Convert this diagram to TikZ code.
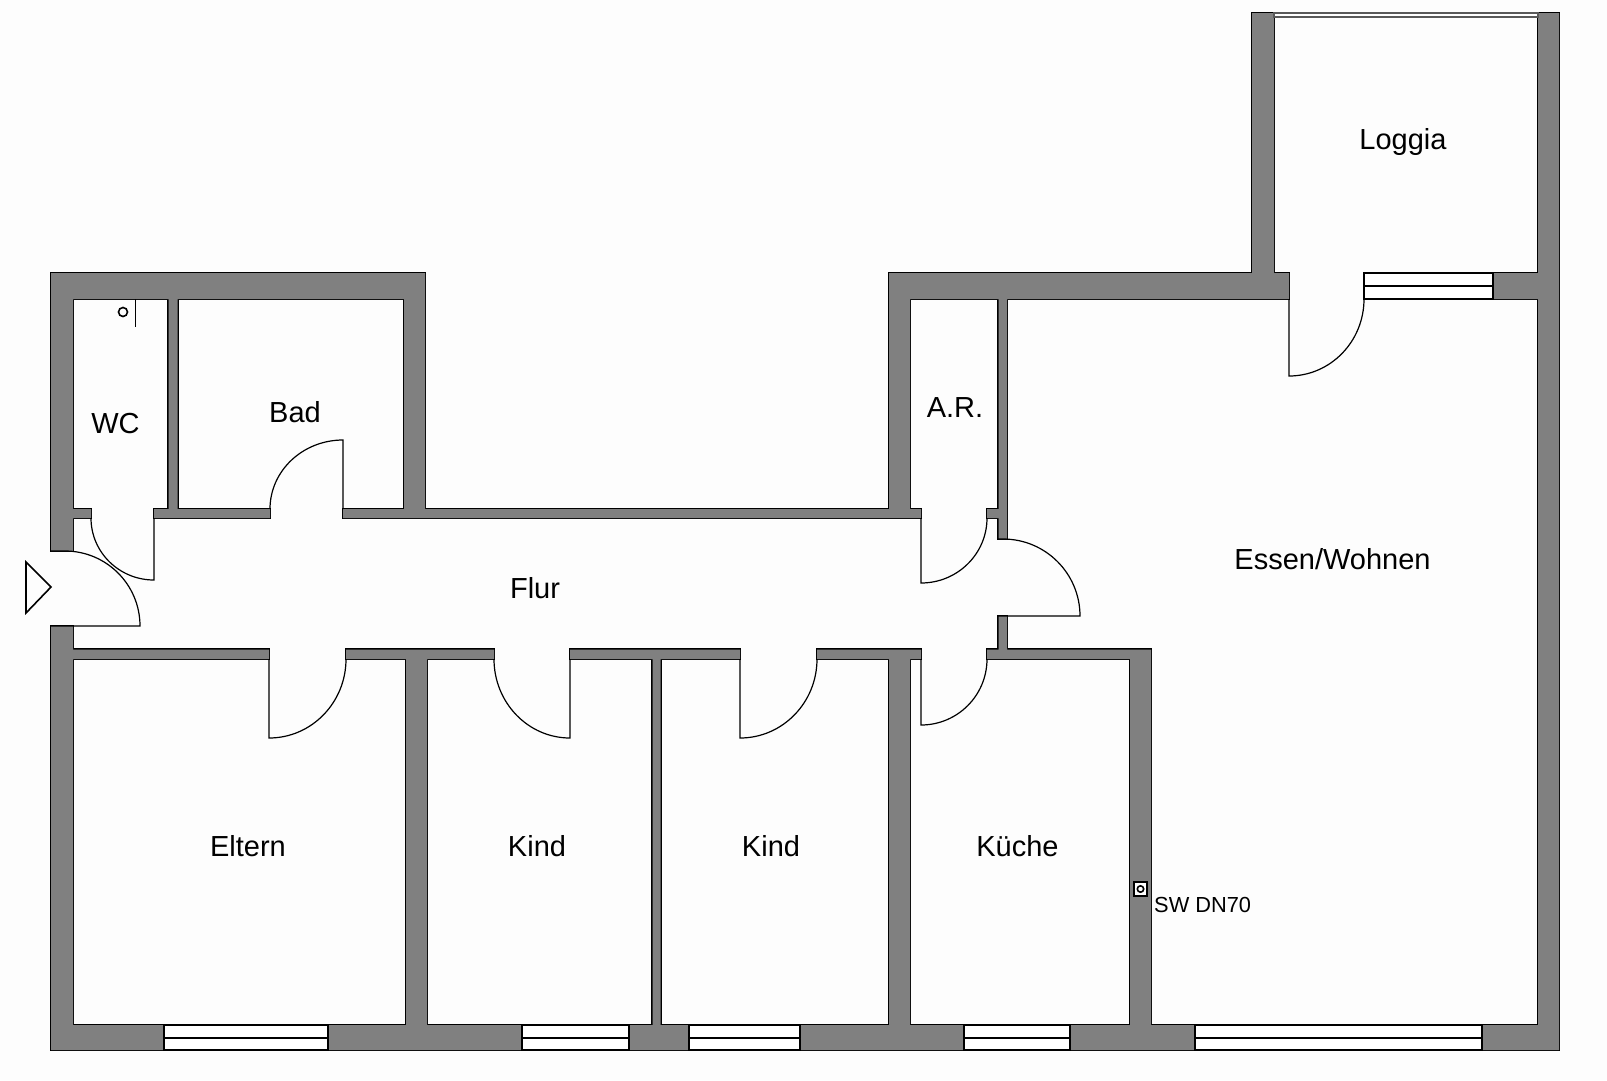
\documentclass[tikz,border=0pt]{standalone}
\usepackage{fontspec}
\setmainfont{Liberation Sans}
\definecolor{wallgray}{HTML}{808080}
\definecolor{papergray}{HTML}{FDFDFD}

% all wall pieces, drawn twice: once for the outline and once for the fill
\newcommand{\wallparts}{
  (51,-273) rectangle (425,-299)
  (51,-273) rectangle (73,-551)
  (51,-626) rectangle (73,-1050)
  (168.5,-299) rectangle (177.5,-518)
  (73,-509) rectangle (91,-518)
  (154,-509) rectangle (270,-518)
  (343,-509) rectangle (921,-518)
  (404,-299) rectangle (425,-518)
  (889,-273) rectangle (910,-518)
  (987,-509) rectangle (1007,-518)
  (998.5,-299) rectangle (1007,-539)
  (889,-273) rectangle (1289,-299)
  (1252,-13) rectangle (1274,-299)
  (1493,-273) rectangle (1559,-299)
  (1538,-13) rectangle (1559,-1050)
  (998.5,-616) rectangle (1007,-659)
  (73,-649.5) rectangle (269,-659)
  (346,-649.5) rectangle (494,-659)
  (570,-649.5) rectangle (740,-659)
  (817,-649.5) rectangle (921,-659)
  (987,-649.5) rectangle (1151,-659)
  (406,-649.5) rectangle (427,-1050)
  (652.5,-649.5) rectangle (660.5,-1050)
  (889,-649.5) rectangle (910,-1050)
  (1130,-649.5) rectangle (1151,-1050)
  (51,-1025) rectangle (164,-1050)
  (328,-1025) rectangle (522,-1050)
  (629,-1025) rectangle (689,-1050)
  (800,-1025) rectangle (964,-1050)
  (1070,-1025) rectangle (1195,-1050)
  (1482,-1025) rectangle (1559,-1050)
}

\begin{document}
\begin{tikzpicture}[x=1pt,y=1pt]
  \tikzstyle{door}=[draw=black,line width=1.2pt]
  \tikzstyle{pane}=[draw=black,line width=1.6pt,fill=white]
  \tikzstyle{room}=[anchor=base,inner sep=0pt,font=\fontsize{29}{30}\selectfont]
  \tikzstyle{pipe}=[anchor=base west,inner sep=0pt,font=\fontsize{21.8}{24}\selectfont]

  \fill[papergray] (0,0) rectangle (1607,-1080);
  \useasboundingbox (0,0) rectangle (1607,-1080);

  \draw[black,line width=2.2pt] \wallparts;
  \fill[wallgray] \wallparts;

  % windows
  \draw[pane] (164,-1025) rectangle (328,-1050);
  \draw[pane] (164,-1038) -- (328,-1038);
  \draw[pane] (522,-1025) rectangle (629,-1050);
  \draw[pane] (522,-1038) -- (629,-1038);
  \draw[pane] (689,-1025) rectangle (800,-1050);
  \draw[pane] (689,-1038) -- (800,-1038);
  \draw[pane] (964,-1025) rectangle (1070,-1050);
  \draw[pane] (964,-1038) -- (1070,-1038);
  \draw[pane] (1195,-1025) rectangle (1482,-1050);
  \draw[pane] (1195,-1038) -- (1482,-1038);
  \draw[pane] (1364,-273) rectangle (1493,-299);
  \draw[pane] (1364,-286) -- (1493,-286);
  \draw[draw=black!65,line width=1.2pt,fill=white] (1274,-13) rectangle (1538,-17);

  % doors
  \draw[door] (269,-659) -- (269,-738) arc[start angle=-90,end angle=0,x radius=77,y radius=79];
  \draw[door] (570,-659) -- (570,-738) arc[start angle=-90,end angle=-180,x radius=76,y radius=79];
  \draw[door] (740,-659) -- (740,-738) arc[start angle=-90,end angle=0,x radius=77,y radius=79];
  \draw[door] (921,-659) -- (921,-725) arc[start angle=-90,end angle=0,x radius=66,y radius=66];
  \draw[door] (921,-518) -- (921,-583) arc[start angle=-90,end angle=0,x radius=66,y radius=65];
  \draw[door] (154,-518) -- (154,-580) arc[start angle=-90,end angle=-180,x radius=63,y radius=62];
  \draw[door] (343,-509) -- (343,-440) arc[start angle=90,end angle=180,x radius=73,y radius=69];
  \draw[door] (1289,-299) -- (1289,-376) arc[start angle=-90,end angle=0,x radius=75,y radius=77];
  \draw[door] (998,-616) -- (1080,-616) arc[start angle=0,end angle=90,x radius=77,y radius=77] -- (998,-539);
  \draw[door] (51,-626) -- (140,-626) arc[start angle=0,end angle=90,x radius=75,y radius=75] -- (51,-551);

  % entrance mark
  \draw[black,line width=1.6pt] (26,-562) -- (51,-587) -- (26,-613) -- cycle;

  % WC fittings
  \draw[black,line width=1.6pt] (123,-312) circle (4.5);
  \draw[black,line width=1pt] (135,-299) -- (135,-327);

  % pipe in the wall
  \draw[black,line width=1.6pt,fill=white] (1134,-882) rectangle (1147,-896);
  \draw[black,line width=1.6pt] (1140.5,-889) circle (3.2);

  \node[room] (R_0) at (1403,-149) {Loggia};
  \node[room] (R_1) at (115.5,-433) {WC};
  \node[room] (R_2) at (295,-422) {Bad};
  \node[room] (R_3) at (955,-417) {A.R.};
  \node[room] (R_4) at (1332.5,-569) {Essen/Wohnen};
  \node[room] (R_5) at (535,-598) {Flur};
  \node[room] (R_6) at (248,-856) {Eltern};
  \node[room] (R_7) at (537,-856) {Kind};
  \node[room] (R_8) at (771,-856) {Kind};
  \node[room] (R_9) at (1017.5,-856) {Küche};
  \node[pipe] (P_0) at (1154,-912) {SW DN70};
\end{tikzpicture}
\end{document}
